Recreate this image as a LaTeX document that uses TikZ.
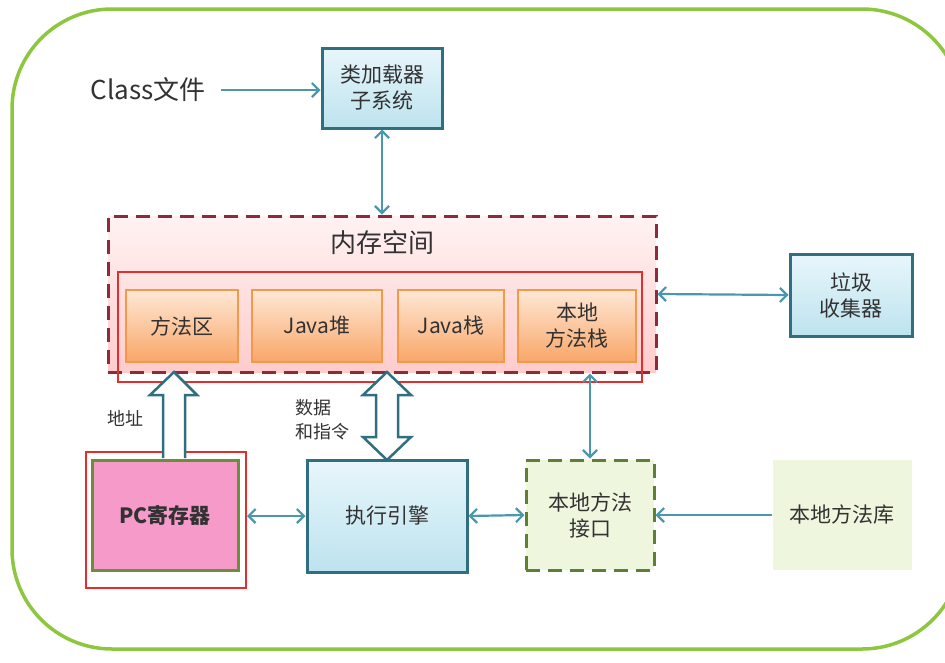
\documentclass[tikz,border=0pt]{standalone}
\usepackage{fontspec}
\setmainfont{Noto Sans CJK SC}
\usepackage{tikz}
\usetikzlibrary{
  % arrow tips
  arrows.meta,%
  calc,%
  positioning
}
\definecolor{framegreen}{RGB}{141,198,63}
\definecolor{tealline}{RGB}{47,111,127}
\definecolor{bluetop}{RGB}{232,246,251}
\definecolor{bluebot}{RGB}{189,227,239}
\definecolor{memred}{RGB}{142,42,58}
\definecolor{redline}{RGB}{226,46,44}
\definecolor{orangeline}{RGB}{244,153,74}
\definecolor{orangetop}{RGB}{254,232,214}
\definecolor{orangebot}{RGB}{249,166,104}
\definecolor{pcpink}{RGB}{246,154,201}
\definecolor{pcgreen}{RGB}{108,142,58}
\definecolor{nifgreen}{RGB}{95,127,53}
\definecolor{nifbg}{RGB}{238,246,222}
\definecolor{arrowc}{RGB}{74,151,174}
\definecolor{txt}{RGB}{50,50,50}
\tikzset{>={Straight Barb[length=7pt,width=14pt]}}
\tikzset{font=\fontsize{21}{26}\selectfont, text=txt}
\tikzset{
  bluebox/.style={draw=tealline, line width=3pt, top color=bluetop, bottom color=bluebot,
    inner sep=0pt, align=center},
  orangebox/.style={draw=orangeline, line width=2pt, top color=orangetop, bottom color=orangebot,
    inner sep=0pt, align=center, minimum height=72pt},
  conn/.style={draw=arrowc, line width=2.2pt},
  hollow/.style={draw=tealline, line width=2.5pt, fill=white, line join=miter}
}

\begin{document}
\begin{tikzpicture}[x=1pt, y=-1pt]
  \useasboundingbox (0,0) rectangle (945,662);
  \draw[framegreen, line width=3.5pt, rounded corners=100pt] (12,9) rectangle (962,649);

  % top row
  \node[font=\fontsize{26}{30}\selectfont] (cls) at (148,90) {Class文件};
  \node[bluebox, minimum width=120pt, minimum height=80pt] (loader) at (382,88) {类加载器\\子系统};

  % memory area
  \node[draw=memred, line width=3pt, dash pattern=on 14pt off 8pt, top color=red!5,
    bottom color=red!20, minimum width=548pt, minimum height=156pt] (mem) at (382,294) {};
  \node[font=\fontsize{26}{30}\selectfont] (memlabel) at (382,243) {内存空间};
  \node[draw=redline, line width=2pt, minimum width=524pt, minimum height=110pt] (memin) at (380,327) {};
  \node[orangebox, minimum width=112pt] (method) at (182,326) {方法区};
  \node[orangebox, minimum width=130pt] (heap) at (317,326) {Java堆};
  \node[orangebox, minimum width=106pt] (stack) at (451,326) {Java栈};
  \node[orangebox, minimum width=118pt] (nstack) at (577,326) {本地\\方法栈};

  \node[bluebox, minimum width=122pt, minimum height=82pt] (gc) at (851,295) {垃圾\\收集器};

  % bottom row
  \node[draw=redline, line width=2pt, minimum width=160pt, minimum height=136pt] (pcout) at (166,520) {};
  \node[draw=pcgreen, line width=3pt, fill=pcpink, minimum width=146pt, minimum height=110pt,
    font=\fontsize{21}{26}\selectfont\bfseries] (pc) at (165,515) {PC寄存器};
  \node[bluebox, minimum width=160pt, minimum height=112pt] (engine) at (387,516) {执行引擎};
  \node[draw=nifgreen, line width=3pt, dash pattern=on 14pt off 8pt, fill=nifbg,
    minimum width=128pt, minimum height=110pt, align=center, inner sep=0pt] (nif) at (590,515) {本地方法\\接口};
  \node[fill=nifbg, minimum width=139pt, minimum height=110pt, inner sep=0pt] (nlib) at (842,515) {本地方法库};

  % connectors
  \draw[conn, ->, shorten <=12pt] (cls.east) -- (cls.east -| loader.west);
  \draw[conn, <->] (loader.south) -- (mem.north);
  \draw[conn, <->] (mem.east) -- (gc.west);
  \draw[conn, <->] (engine.west -| pcout.east) -- (engine.west);
  \draw[conn, <->] (engine.east) -- (nif.west);
  \draw[conn, ->] (nlib.west) -- (nif.east);
  \draw[conn, <->] (nif.north |- mem.south) -- (nif.north);

  % hollow arrows
  \draw[hollow] (163,458) -- (163,395) -- (150,395) -- (174,372) -- (197,395)
    -- (185,395) -- (185,458);
  \draw[hollow] (376,395) -- (363,395) -- (387,372) -- (411,395) -- (398,395)
    -- (398,437) -- (411,437) -- (387,460) -- (363,437) -- (376,437) -- cycle;
  \node[font=\fontsize{18}{22}\selectfont] (addr) at (125,418) {地址};
  \node[font=\fontsize{18}{24}\selectfont, align=left] (data) at (322,420) {数据\\和指令};
\end{tikzpicture}
\end{document}
